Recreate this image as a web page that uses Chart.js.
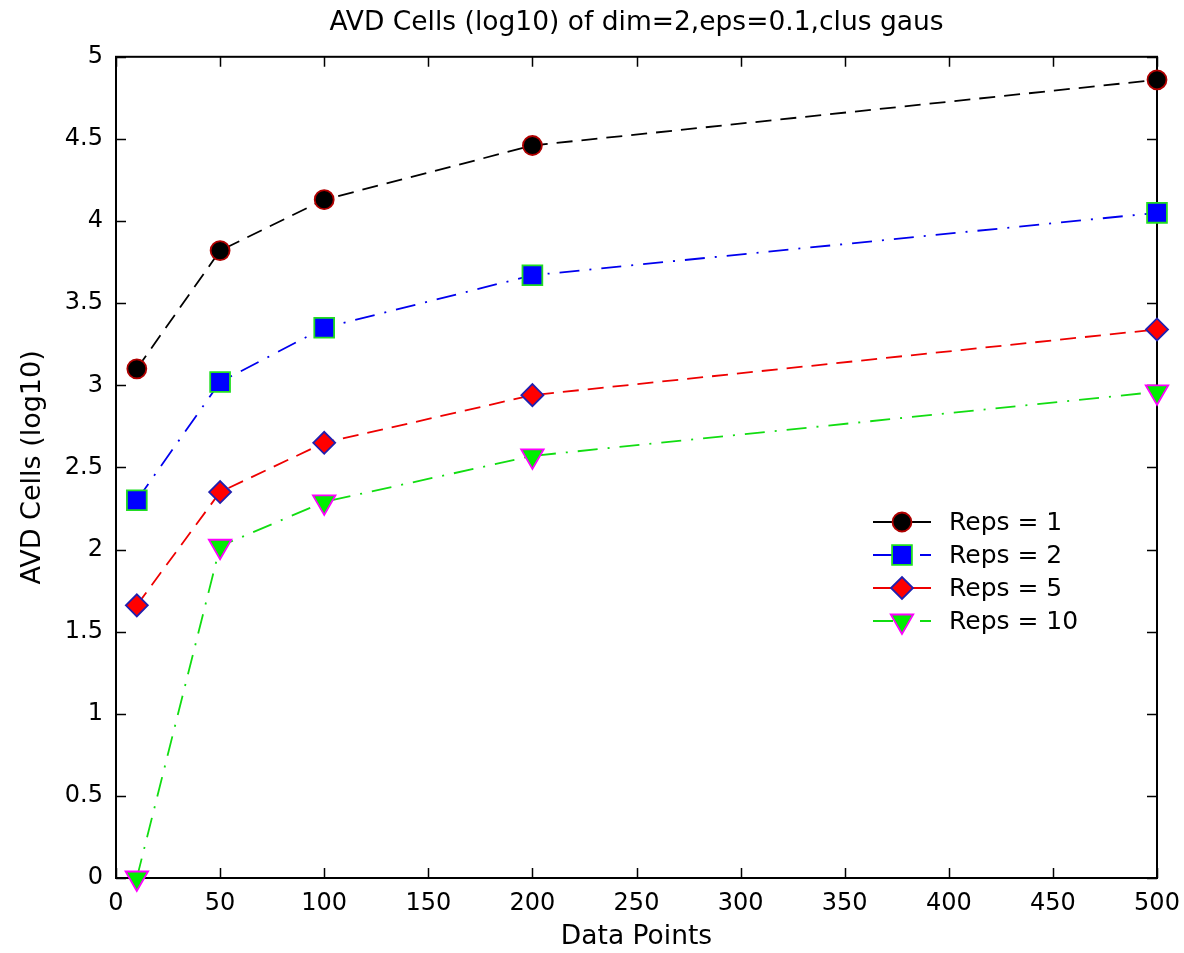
<!DOCTYPE html>
<html>
<head>
<meta charset="utf-8">
<script src="https://cdn.jsdelivr.net/npm/chart.js@4"></script>
<style>
  html, body { margin: 0; padding: 0; background: #ffffff; }
  #wrap { width: 1184px; height: 953px; }
</style>
</head>
<body>
<div id="wrap"><canvas id="c" width="1184" height="953"></canvas></div>
<script>
const xValues = [10, 50, 100, 200, 500];
const reps1 = [3.10, 3.82, 4.13, 4.46, 4.86];
const reps2 = [2.30, 3.02, 3.35, 3.67, 4.05];
const reps5 = [1.66, 2.35, 2.65, 2.94, 3.34];
const reps10 = [0.00, 2.02, 2.29, 2.57, 2.96];
const seriesLabels = ['Reps = 1', 'Reps = 2', 'Reps = 5', 'Reps = 10'];
const xTicks = [0, 50, 100, 150, 200, 250, 300, 350, 400, 450, 500];
const xTickLabels = ['0', '50', '100', '150', '200', '250', '300', '350', '400', '450', '500'];
const yTicks = [0, 0.5, 1, 1.5, 2, 2.5, 3, 3.5, 4, 4.5, 5];
const yTickLabels = ['0', '0.5', '1', '1.5', '2', '2.5', '3', '3.5', '4', '4.5', '5'];
const titleText = 'AVD Cells (log10) of dim=2,eps=0.1,clus gaus';
const xTitle = 'Data Points';
const yTitle = 'AVD Cells (log10)';

const FONT = "'DejaVu Sans', 'Liberation Sans', Arial, sans-serif";
const pts = (ys) => xValues.map((x, i) => ({ x: x, y: ys[i] }));

const DASH = [16, 9];
const DASHDOT = [20, 10, 2, 10];

const datasets = [
  { label: seriesLabels[0], data: pts(reps1), borderColor: '#000000', borderDash: DASH, legendDash: [],
    pointStyle: 'circle', pointRadius: 9.5, pointBackgroundColor: '#000000', pointBorderColor: '#b00000', pointRotation: 0 },
  { label: seriesLabels[1], data: pts(reps2), borderColor: '#0000ee', borderDash: DASHDOT, legendDash: [20, 27, 11, 10],
    pointStyle: 'rect', pointRadius: 14, pointBackgroundColor: '#0000ff', pointBorderColor: '#22dd22', pointRotation: 0 },
  { label: seriesLabels[2], data: pts(reps5), borderColor: '#ee0000', borderDash: DASH, legendDash: [],
    pointStyle: 'rectRot', pointRadius: 11, pointBackgroundColor: '#ff0000', pointBorderColor: '#2020b0', pointRotation: 0 },
  { label: seriesLabels[3], data: pts(reps10), borderColor: '#11dd11', borderDash: DASHDOT, legendDash: [20, 27, 11, 10],
    pointStyle: 'triangle', pointRadius: 13, pointBackgroundColor: '#00ee00', pointBorderColor: '#ff00ff', pointRotation: 180 }
].map(d => Object.assign({
  borderWidth: 1.8, pointBorderWidth: 1.8, pointHoverRadius: d.pointRadius, fill: false,
  tension: 0, clip: false, showLine: true
}, d));

const framePlugin = {
  id: 'frame',
  beforeDatasetsDraw(chart) {
    const { ctx, chartArea: a, scales } = chart;
    ctx.save();
    ctx.strokeStyle = '#000';
    ctx.lineWidth = 2;
    ctx.strokeRect(a.left, a.top, a.right - a.left, a.bottom - a.top);
    const L = 10;
    ctx.beginPath();
    scales.x.ticks.forEach(t => {
      const px = Math.round(scales.x.getPixelForValue(t.value)) + 0.5;
      ctx.moveTo(px, a.bottom); ctx.lineTo(px, a.bottom - L);
      ctx.moveTo(px, a.top); ctx.lineTo(px, a.top + L);
    });
    scales.y.ticks.forEach(t => {
      const py = Math.round(scales.y.getPixelForValue(t.value)) + 0.5;
      ctx.moveTo(a.left, py); ctx.lineTo(a.left + L, py);
      ctx.moveTo(a.right, py); ctx.lineTo(a.right - L, py);
    });
    ctx.lineWidth = 1.5;
    ctx.stroke();
    ctx.restore();
  }
};

const legendPlugin = {
  id: 'insideLegend',
  afterDatasetsDraw(chart) {
    const { ctx } = chart;
    ctx.save();
    chart.data.datasets.forEach((ds, i) => {
      const y = 522 + i * 33;
      ctx.strokeStyle = ds.borderColor;
      ctx.lineWidth = ds.borderWidth;
      ctx.setLineDash(ds.legendDash || []);
      ctx.beginPath();
      ctx.moveTo(873, y); ctx.lineTo(931, y);
      ctx.stroke();
      ctx.setLineDash([]);
      ctx.fillStyle = ds.pointBackgroundColor;
      ctx.strokeStyle = ds.pointBorderColor;
      ctx.lineWidth = ds.pointBorderWidth;
      Chart.helpers.drawPoint(ctx, {
        pointStyle: ds.pointStyle, radius: ds.pointRadius, rotation: ds.pointRotation, borderWidth: ds.pointBorderWidth
      }, 902, y);
      ctx.fillStyle = '#000';
      ctx.font = '25px ' + FONT;
      ctx.textBaseline = 'middle';
      ctx.textAlign = 'left';
      ctx.fillText(ds.label, 949, y + 1);
    });
    ctx.restore();
  }
};

new Chart(document.getElementById('c'), {
  type: 'line',
  data: { datasets: datasets },
  options: {
    responsive: false,
    animation: false,
    events: [],
    layout: { padding: { left: 0, right: 27, top: 0, bottom: 0 } },
    plugins: {
      legend: { display: false },
      tooltip: { enabled: false },
      title: {
        display: true, text: titleText, color: '#000', fullSize: false,
        font: { family: FONT, size: 26.5, weight: 'normal', lineHeight: 1.2 },
        padding: { top: 7, bottom: 18 }
      }
    },
    scales: {
      x: {
        type: 'linear', min: 0, max: 500,
        grid: { display: false, drawTicks: false },
        border: { display: false },
        afterBuildTicks: (s) => { s.ticks = xTicks.map(v => ({ value: v })); },
        afterFit: (s) => { s.height = 953 - 878; s.paddingRight = 0; s.paddingLeft = 0; },
        ticks: { color: '#000', padding: 11, maxRotation: 0, autoSkip: false,
          font: { family: FONT, size: 24 }, callback: (v, i) => xTickLabels[i] },
        title: { display: true, text: xTitle, color: '#000', padding: { top: 0, bottom: 0 },
          font: { family: FONT, size: 26.5, lineHeight: 1.2 } }
      },
      y: {
        type: 'linear', min: 0, max: 5,
        grid: { display: false, drawTicks: false },
        border: { display: false },
        afterBuildTicks: (s) => { s.ticks = yTicks.map(v => ({ value: v })); },
        afterFit: (s) => { s.width = 116; s.paddingTop = 0; s.paddingBottom = 0; },
        ticks: { color: '#000', padding: 13, autoSkip: false,
          font: { family: FONT, size: 24 }, callback: (v, i) => yTickLabels[i] },
        title: { display: true, text: yTitle, color: '#000', padding: { top: 17, bottom: 0 },
          font: { family: FONT, size: 27, lineHeight: 1.2 } }
      }
    }
  },
  plugins: [framePlugin, legendPlugin]
});
</script>
</body>
</html>
